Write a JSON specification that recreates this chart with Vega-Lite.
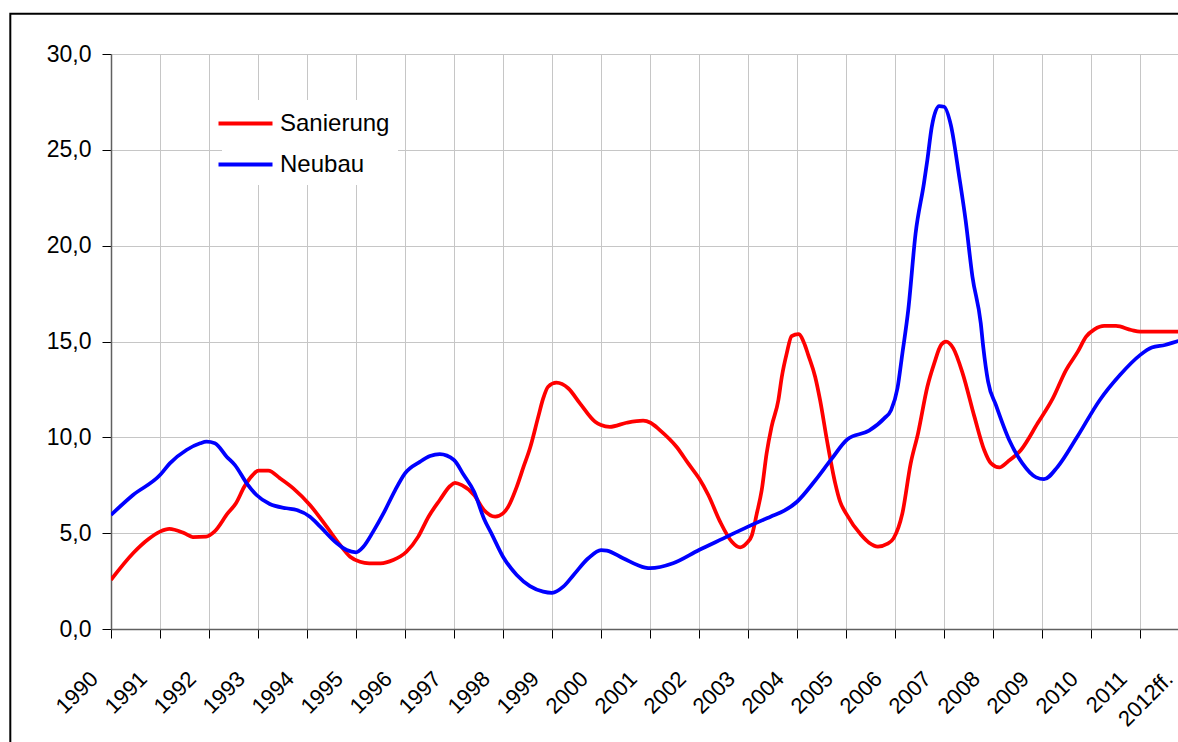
{
  "$schema": "https://vega.github.io/schema/vega-lite/v6.json",
  "width": 1067,
  "height": 575,
  "autosize": {"type": "none"},
  "padding": {"left": 111, "top": 54, "right": 0, "bottom": 113},
  "background": "white",
  "config": {"view": {"stroke": null}, "font": "Liberation Sans"},
  "datasets": {
    "reihen": [
      {"reihe": "Sanierung", "jahr": 1990.00, "wert": 2.56},
      {"reihe": "Sanierung", "jahr": 1990.45, "wert": 3.95},
      {"reihe": "Sanierung", "jahr": 1990.76, "wert": 4.68},
      {"reihe": "Sanierung", "jahr": 1991.00, "wert": 5.08},
      {"reihe": "Sanierung", "jahr": 1991.19, "wert": 5.22},
      {"reihe": "Sanierung", "jahr": 1991.50, "wert": 4.99},
      {"reihe": "Sanierung", "jahr": 1991.67, "wert": 4.80},
      {"reihe": "Sanierung", "jahr": 1991.94, "wert": 4.82},
      {"reihe": "Sanierung", "jahr": 1992.11, "wert": 5.08},
      {"reihe": "Sanierung", "jahr": 1992.38, "wert": 6.03},
      {"reihe": "Sanierung", "jahr": 1992.55, "wert": 6.56},
      {"reihe": "Sanierung", "jahr": 1992.72, "wert": 7.42},
      {"reihe": "Sanierung", "jahr": 1992.89, "wert": 8.03},
      {"reihe": "Sanierung", "jahr": 1993.01, "wert": 8.26},
      {"reihe": "Sanierung", "jahr": 1993.21, "wert": 8.26},
      {"reihe": "Sanierung", "jahr": 1993.45, "wert": 7.86},
      {"reihe": "Sanierung", "jahr": 1993.72, "wert": 7.34},
      {"reihe": "Sanierung", "jahr": 1994.06, "wert": 6.47},
      {"reihe": "Sanierung", "jahr": 1994.40, "wert": 5.34},
      {"reihe": "Sanierung", "jahr": 1994.67, "wert": 4.40},
      {"reihe": "Sanierung", "jahr": 1994.88, "wert": 3.77},
      {"reihe": "Sanierung", "jahr": 1995.08, "wert": 3.51},
      {"reihe": "Sanierung", "jahr": 1995.27, "wert": 3.43},
      {"reihe": "Sanierung", "jahr": 1995.50, "wert": 3.43},
      {"reihe": "Sanierung", "jahr": 1995.76, "wert": 3.60},
      {"reihe": "Sanierung", "jahr": 1996.03, "wert": 4.03},
      {"reihe": "Sanierung", "jahr": 1996.27, "wert": 4.82},
      {"reihe": "Sanierung", "jahr": 1996.48, "wert": 5.86},
      {"reihe": "Sanierung", "jahr": 1996.71, "wert": 6.73},
      {"reihe": "Sanierung", "jahr": 1996.92, "wert": 7.46},
      {"reihe": "Sanierung", "jahr": 1997.02, "wert": 7.63},
      {"reihe": "Sanierung", "jahr": 1997.16, "wert": 7.51},
      {"reihe": "Sanierung", "jahr": 1997.41, "wert": 6.99},
      {"reihe": "Sanierung", "jahr": 1997.61, "wert": 6.21},
      {"reihe": "Sanierung", "jahr": 1997.84, "wert": 5.86},
      {"reihe": "Sanierung", "jahr": 1998.00, "wert": 6.03},
      {"reihe": "Sanierung", "jahr": 1998.11, "wert": 6.40},
      {"reihe": "Sanierung", "jahr": 1998.28, "wert": 7.42},
      {"reihe": "Sanierung", "jahr": 1998.42, "wert": 8.47},
      {"reihe": "Sanierung", "jahr": 1998.55, "wert": 9.43},
      {"reihe": "Sanierung", "jahr": 1998.72, "wert": 11.08},
      {"reihe": "Sanierung", "jahr": 1998.82, "wert": 12.03},
      {"reihe": "Sanierung", "jahr": 1998.92, "wert": 12.64},
      {"reihe": "Sanierung", "jahr": 1999.09, "wert": 12.85},
      {"reihe": "Sanierung", "jahr": 1999.33, "wert": 12.56},
      {"reihe": "Sanierung", "jahr": 1999.57, "wert": 11.77},
      {"reihe": "Sanierung", "jahr": 1999.88, "wert": 10.81},
      {"reihe": "Sanierung", "jahr": 2000.00, "wert": 10.64},
      {"reihe": "Sanierung", "jahr": 2000.18, "wert": 10.55},
      {"reihe": "Sanierung", "jahr": 2000.52, "wert": 10.76},
      {"reihe": "Sanierung", "jahr": 2000.86, "wert": 10.87},
      {"reihe": "Sanierung", "jahr": 2001.01, "wert": 10.76},
      {"reihe": "Sanierung", "jahr": 2001.20, "wert": 10.38},
      {"reihe": "Sanierung", "jahr": 2001.54, "wert": 9.51},
      {"reihe": "Sanierung", "jahr": 2001.78, "wert": 8.64},
      {"reihe": "Sanierung", "jahr": 2002.00, "wert": 7.86},
      {"reihe": "Sanierung", "jahr": 2002.19, "wert": 6.99},
      {"reihe": "Sanierung", "jahr": 2002.43, "wert": 5.60},
      {"reihe": "Sanierung", "jahr": 2002.67, "wert": 4.55},
      {"reihe": "Sanierung", "jahr": 2002.84, "wert": 4.26},
      {"reihe": "Sanierung", "jahr": 2002.97, "wert": 4.47},
      {"reihe": "Sanierung", "jahr": 2003.08, "wert": 4.90},
      {"reihe": "Sanierung", "jahr": 2003.18, "wert": 6.03},
      {"reihe": "Sanierung", "jahr": 2003.28, "wert": 7.25},
      {"reihe": "Sanierung", "jahr": 2003.38, "wert": 9.17},
      {"reihe": "Sanierung", "jahr": 2003.48, "wert": 10.55},
      {"reihe": "Sanierung", "jahr": 2003.62, "wert": 11.95},
      {"reihe": "Sanierung", "jahr": 2003.69, "wert": 13.16},
      {"reihe": "Sanierung", "jahr": 2003.79, "wert": 14.38},
      {"reihe": "Sanierung", "jahr": 2003.89, "wert": 15.28},
      {"reihe": "Sanierung", "jahr": 2004.03, "wert": 15.39},
      {"reihe": "Sanierung", "jahr": 2004.16, "wert": 14.82},
      {"reihe": "Sanierung", "jahr": 2004.23, "wert": 14.29},
      {"reihe": "Sanierung", "jahr": 2004.37, "wert": 13.16},
      {"reihe": "Sanierung", "jahr": 2004.47, "wert": 11.95},
      {"reihe": "Sanierung", "jahr": 2004.61, "wert": 9.86},
      {"reihe": "Sanierung", "jahr": 2004.78, "wert": 7.60},
      {"reihe": "Sanierung", "jahr": 2004.88, "wert": 6.64},
      {"reihe": "Sanierung", "jahr": 2005.00, "wert": 6.03},
      {"reihe": "Sanierung", "jahr": 2005.31, "wert": 4.90},
      {"reihe": "Sanierung", "jahr": 2005.47, "wert": 4.50},
      {"reihe": "Sanierung", "jahr": 2005.65, "wert": 4.30},
      {"reihe": "Sanierung", "jahr": 2005.85, "wert": 4.45},
      {"reihe": "Sanierung", "jahr": 2005.97, "wert": 4.73},
      {"reihe": "Sanierung", "jahr": 2006.15, "wert": 6.03},
      {"reihe": "Sanierung", "jahr": 2006.32, "wert": 8.64},
      {"reihe": "Sanierung", "jahr": 2006.47, "wert": 10.21},
      {"reihe": "Sanierung", "jahr": 2006.66, "wert": 12.64},
      {"reihe": "Sanierung", "jahr": 2006.80, "wert": 13.86},
      {"reihe": "Sanierung", "jahr": 2006.94, "wert": 14.82},
      {"reihe": "Sanierung", "jahr": 2007.04, "wert": 14.99},
      {"reihe": "Sanierung", "jahr": 2007.19, "wert": 14.64},
      {"reihe": "Sanierung", "jahr": 2007.38, "wert": 13.34},
      {"reihe": "Sanierung", "jahr": 2007.62, "wert": 11.08},
      {"reihe": "Sanierung", "jahr": 2007.82, "wert": 9.34},
      {"reihe": "Sanierung", "jahr": 2007.96, "wert": 8.64},
      {"reihe": "Sanierung", "jahr": 2008.13, "wert": 8.43},
      {"reihe": "Sanierung", "jahr": 2008.30, "wert": 8.73},
      {"reihe": "Sanierung", "jahr": 2008.57, "wert": 9.34},
      {"reihe": "Sanierung", "jahr": 2008.91, "wert": 10.73},
      {"reihe": "Sanierung", "jahr": 2009.22, "wert": 12.03},
      {"reihe": "Sanierung", "jahr": 2009.49, "wert": 13.51},
      {"reihe": "Sanierung", "jahr": 2009.73, "wert": 14.47},
      {"reihe": "Sanierung", "jahr": 2009.90, "wert": 15.25},
      {"reihe": "Sanierung", "jahr": 2010.07, "wert": 15.63},
      {"reihe": "Sanierung", "jahr": 2010.27, "wert": 15.81},
      {"reihe": "Sanierung", "jahr": 2010.51, "wert": 15.81},
      {"reihe": "Sanierung", "jahr": 2010.82, "wert": 15.60},
      {"reihe": "Sanierung", "jahr": 2011.00, "wert": 15.51},
      {"reihe": "Sanierung", "jahr": 2011.50, "wert": 15.51},
      {"reihe": "Sanierung", "jahr": 2012.00, "wert": 15.51},
      {"reihe": "Neubau", "jahr": 1990.00, "wert": 5.95},
      {"reihe": "Neubau", "jahr": 1990.45, "wert": 6.99},
      {"reihe": "Neubau", "jahr": 1991.00, "wert": 8.03},
      {"reihe": "Neubau", "jahr": 1991.20, "wert": 8.64},
      {"reihe": "Neubau", "jahr": 1991.54, "wert": 9.34},
      {"reihe": "Neubau", "jahr": 1991.82, "wert": 9.69},
      {"reihe": "Neubau", "jahr": 1991.95, "wert": 9.77},
      {"reihe": "Neubau", "jahr": 1992.12, "wert": 9.69},
      {"reihe": "Neubau", "jahr": 1992.36, "wert": 8.99},
      {"reihe": "Neubau", "jahr": 1992.53, "wert": 8.55},
      {"reihe": "Neubau", "jahr": 1992.77, "wert": 7.60},
      {"reihe": "Neubau", "jahr": 1992.97, "wert": 6.99},
      {"reihe": "Neubau", "jahr": 1993.24, "wert": 6.52},
      {"reihe": "Neubau", "jahr": 1993.58, "wert": 6.30},
      {"reihe": "Neubau", "jahr": 1993.79, "wert": 6.21},
      {"reihe": "Neubau", "jahr": 1994.06, "wert": 5.86},
      {"reihe": "Neubau", "jahr": 1994.27, "wert": 5.34},
      {"reihe": "Neubau", "jahr": 1994.61, "wert": 4.47},
      {"reihe": "Neubau", "jahr": 1994.81, "wert": 4.12},
      {"reihe": "Neubau", "jahr": 1995.00, "wert": 4.00},
      {"reihe": "Neubau", "jahr": 1995.15, "wert": 4.29},
      {"reihe": "Neubau", "jahr": 1995.35, "wert": 5.08},
      {"reihe": "Neubau", "jahr": 1995.56, "wert": 6.03},
      {"reihe": "Neubau", "jahr": 1995.80, "wert": 7.25},
      {"reihe": "Neubau", "jahr": 1996.00, "wert": 8.12},
      {"reihe": "Neubau", "jahr": 1996.31, "wert": 8.73},
      {"reihe": "Neubau", "jahr": 1996.51, "wert": 9.02},
      {"reihe": "Neubau", "jahr": 1996.71, "wert": 9.13},
      {"reihe": "Neubau", "jahr": 1997.00, "wert": 8.82},
      {"reihe": "Neubau", "jahr": 1997.20, "wert": 8.03},
      {"reihe": "Neubau", "jahr": 1997.41, "wert": 7.16},
      {"reihe": "Neubau", "jahr": 1997.61, "wert": 5.77},
      {"reihe": "Neubau", "jahr": 1997.78, "wert": 4.90},
      {"reihe": "Neubau", "jahr": 1998.00, "wert": 3.77},
      {"reihe": "Neubau", "jahr": 1998.28, "wert": 2.82},
      {"reihe": "Neubau", "jahr": 1998.55, "wert": 2.24},
      {"reihe": "Neubau", "jahr": 1998.82, "wert": 1.95},
      {"reihe": "Neubau", "jahr": 1999.00, "wert": 1.89},
      {"reihe": "Neubau", "jahr": 1999.23, "wert": 2.21},
      {"reihe": "Neubau", "jahr": 1999.44, "wert": 2.82},
      {"reihe": "Neubau", "jahr": 1999.74, "wert": 3.69},
      {"reihe": "Neubau", "jahr": 2000.00, "wert": 4.12},
      {"reihe": "Neubau", "jahr": 2000.12, "wert": 4.09},
      {"reihe": "Neubau", "jahr": 2000.45, "wert": 3.69},
      {"reihe": "Neubau", "jahr": 2000.90, "wert": 3.20},
      {"reihe": "Neubau", "jahr": 2001.00, "wert": 3.17},
      {"reihe": "Neubau", "jahr": 2001.47, "wert": 3.43},
      {"reihe": "Neubau", "jahr": 2002.00, "wert": 4.12},
      {"reihe": "Neubau", "jahr": 2002.50, "wert": 4.73},
      {"reihe": "Neubau", "jahr": 2003.00, "wert": 5.34},
      {"reihe": "Neubau", "jahr": 2003.46, "wert": 5.86},
      {"reihe": "Neubau", "jahr": 2003.74, "wert": 6.17},
      {"reihe": "Neubau", "jahr": 2004.00, "wert": 6.64},
      {"reihe": "Neubau", "jahr": 2004.35, "wert": 7.68},
      {"reihe": "Neubau", "jahr": 2004.69, "wert": 8.82},
      {"reihe": "Neubau", "jahr": 2005.03, "wert": 9.90},
      {"reihe": "Neubau", "jahr": 2005.47, "wert": 10.35},
      {"reihe": "Neubau", "jahr": 2005.78, "wert": 10.99},
      {"reihe": "Neubau", "jahr": 2005.92, "wert": 11.42},
      {"reihe": "Neubau", "jahr": 2006.05, "wert": 12.56},
      {"reihe": "Neubau", "jahr": 2006.15, "wert": 14.38},
      {"reihe": "Neubau", "jahr": 2006.27, "wert": 16.64},
      {"reihe": "Neubau", "jahr": 2006.42, "wert": 20.64},
      {"reihe": "Neubau", "jahr": 2006.59, "wert": 23.25},
      {"reihe": "Neubau", "jahr": 2006.66, "wert": 24.47},
      {"reihe": "Neubau", "jahr": 2006.75, "wert": 26.20},
      {"reihe": "Neubau", "jahr": 2006.90, "wert": 27.28},
      {"reihe": "Neubau", "jahr": 2007.00, "wert": 27.25},
      {"reihe": "Neubau", "jahr": 2007.14, "wert": 26.29},
      {"reihe": "Neubau", "jahr": 2007.31, "wert": 23.60},
      {"reihe": "Neubau", "jahr": 2007.44, "wert": 21.34},
      {"reihe": "Neubau", "jahr": 2007.58, "wert": 18.38},
      {"reihe": "Neubau", "jahr": 2007.75, "wert": 15.95},
      {"reihe": "Neubau", "jahr": 2007.80, "wert": 14.73},
      {"reihe": "Neubau", "jahr": 2007.90, "wert": 12.90},
      {"reihe": "Neubau", "jahr": 2008.06, "wert": 11.68},
      {"reihe": "Neubau", "jahr": 2008.33, "wert": 9.86},
      {"reihe": "Neubau", "jahr": 2008.60, "wert": 8.64},
      {"reihe": "Neubau", "jahr": 2008.88, "wert": 7.91},
      {"reihe": "Neubau", "jahr": 2009.04, "wert": 7.82},
      {"reihe": "Neubau", "jahr": 2009.32, "wert": 8.47},
      {"reihe": "Neubau", "jahr": 2009.70, "wert": 9.95},
      {"reihe": "Neubau", "jahr": 2010.18, "wert": 11.95},
      {"reihe": "Neubau", "jahr": 2010.59, "wert": 13.25},
      {"reihe": "Neubau", "jahr": 2011.00, "wert": 14.29},
      {"reihe": "Neubau", "jahr": 2011.24, "wert": 14.69},
      {"reihe": "Neubau", "jahr": 2011.51, "wert": 14.82},
      {"reihe": "Neubau", "jahr": 2011.78, "wert": 15.02},
      {"reihe": "Neubau", "jahr": 2012.00, "wert": 15.15}
    ]
  },
  "layer": [
    {
      "data": {"name": "reihen"},
      "mark": {"type": "line", "interpolate": "monotone", "strokeWidth": 3.75, "clip": true},
      "encoding": {
        "x": {
          "field": "jahr",
          "type": "quantitative",
          "scale": {"domain": [1990, 2011.775], "nice": false, "zero": false},
          "axis": {
            "title": null,
            "values": [1990, 1991, 1992, 1993, 1994, 1995, 1996, 1997, 1998, 1999, 2000, 2001, 2002, 2003, 2004, 2005, 2006, 2007, 2008, 2009, 2010, 2011, 2011.775],
            "labelExpr": "datum.value > 2011.5 ? '2012ff.' : format(datum.value, 'd')",
            "labelAngle": -45,
            "labelAlign": "right",
            "labelBaseline": "middle",
            "labelFont": "Liberation Sans",
            "labelFontSize": 22,
            "labelColor": "black",
            "labelOverlap": false,
            "labelFlush": false,
            "labelBound": false,
            "labelPadding": 37,
            "labelOffset": {"condition": {"test": "datum.value > 2011.5", "value": -9}, "value": -17},
            "tickSize": 9,
            "tickColor": {"condition": {"test": "datum.value > 2011.5", "value": "transparent"}, "value": "#000000"},
            "tickWidth": 1,
            "domainColor": "#606060",
            "domainWidth": 1.5,
            "grid": true,
            "gridColor": {"condition": {"test": "datum.value > 2011.5", "value": "transparent"}, "value": "#c6c6c6"},
            "gridWidth": 1
          }
        },
        "y": {
          "field": "wert",
          "type": "quantitative",
          "scale": {"domain": [0, 30], "nice": false, "zero": false},
          "axis": {
            "title": null,
            "values": [0, 5, 10, 15, 20, 25, 30],
            "labelExpr": "replace(format(datum.value, '.1f'), '.', ',')",
            "labelFont": "Liberation Sans",
            "labelFontSize": 23,
            "labelColor": "black",
            "labelPadding": 11,
            "tickSize": 9,
            "tickColor": "#000000",
            "domainColor": "#606060",
            "domainWidth": 1.5,
            "grid": true,
            "gridColor": "#c6c6c6",
            "gridWidth": 1
          }
        },
        "color": {
          "field": "reihe",
          "type": "nominal",
          "scale": {"domain": ["Sanierung", "Neubau"], "range": ["#ff0000", "#0000ff"]},
          "legend": {
            "orient": "none",
            "legendX": 111,
            "legendY": 46,
            "title": null,
            "symbolType": "M-2,0H2",
            "symbolSize": 729,
            "symbolStrokeWidth": 4,
            "labelFont": "Liberation Sans",
            "labelFontSize": 24,
            "labelColor": "black",
            "labelOffset": 19,
            "rowPadding": 13,
            "fillColor": "white",
            "padding": 8
          }
        }
      }
    },
    {
      "data": {"values": [{}]},
      "mark": {"type": "rect", "fill": null, "stroke": "black", "strokeWidth": 2, "clip": false},
      "encoding": {
        "x": {"datum": 1987.945, "type": "quantitative"},
        "x2": {"datum": 2014},
        "y": {"datum": 32.1, "type": "quantitative"},
        "y2": {"datum": -8}
      }
    }
  ]
}
